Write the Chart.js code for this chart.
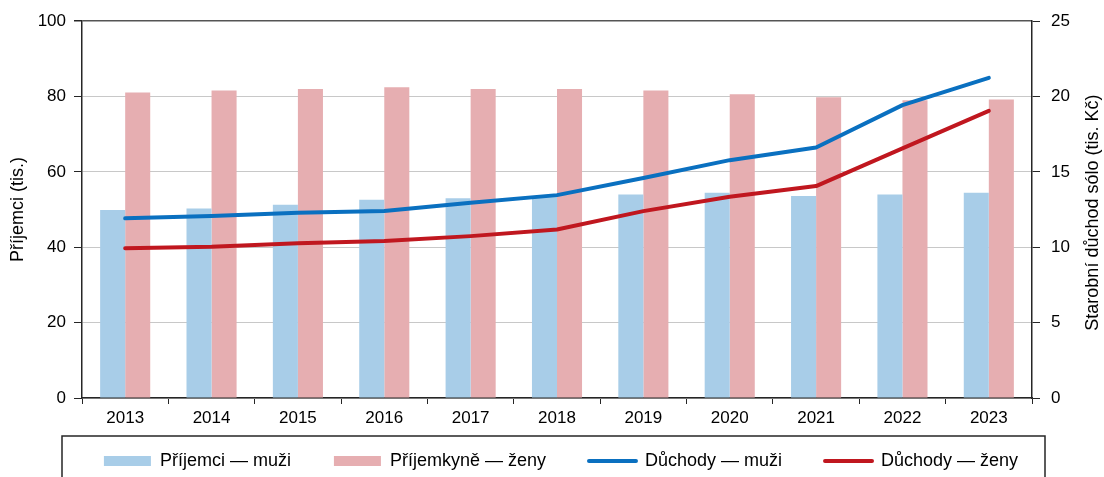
<!DOCTYPE html>
<html>
<head>
<meta charset="utf-8">
<script src="https://cdn.jsdelivr.net/npm/chart.js@4/dist/chart.umd.min.js"></script>
<style>
  html, body { margin: 0; padding: 0; background: #fff; overflow: hidden; }
</style>
</head>
<body>
<canvas id="chart" width="1104" height="477"></canvas>
<script>
// data
const years = ['2013', '2014', '2015', '2016', '2017', '2018', '2019', '2020', '2021', '2022', '2023'];
const prijemciMuzi = [49.9, 50.3, 51.3, 52.6, 53.0, 53.4, 54.0, 54.5, 53.6, 54.0, 54.5];
const prijemkyneZeny = [81.1, 81.6, 82.0, 82.5, 82.0, 82.0, 81.6, 80.6, 79.8, 79.0, 79.2];
const duchodyMuzi = [11.92, 12.08, 12.29, 12.41, 12.96, 13.46, 14.6, 15.78, 16.62, 19.43, 21.24];
const duchodyZeny = [9.93, 10.03, 10.27, 10.41, 10.74, 11.18, 12.4, 13.35, 14.06, 16.56, 19.05];

const leftTicks = [0, 20, 40, 60, 80, 100];
const rightTicks = [0, 5, 10, 15, 20, 25];

const axisColor = '#262626';
const gridColor = '#c8c8c8';
const fontFamily = "'Liberation Sans', Arial, sans-serif";

Chart.defaults.font.family = fontFamily;
Chart.defaults.font.size = 17;
Chart.defaults.color = '#000';

// frame around the legend + right axis title (reads bottom to top)
const extras = {
  id: 'extras',
  afterLayout(chart) {
    // move legend rows into the middle of the frame, and don't let it clip them
    const lg = chart.legend;
    lg.top = 461 - lg.options.labels.padding - 9;
    lg.bottom = chart.height + 40;
    lg.left += 9;
    lg.right += 9;
  },
  afterDraw(chart) {
    const ctx = chart.ctx;
    ctx.save();
    ctx.strokeStyle = axisColor;
    ctx.lineWidth = 1.5;
    ctx.beginPath();
    ctx.moveTo(62, 480);
    ctx.lineTo(62, 436);
    ctx.lineTo(1045, 436);
    ctx.lineTo(1045, 480);
    ctx.stroke();

    const area = chart.chartArea;
    ctx.translate(1093, (area.top + area.bottom) / 2 + 3);
    ctx.rotate(-Math.PI / 2);
    ctx.fillStyle = '#000';
    ctx.font = '18px ' + fontFamily;
    ctx.textAlign = 'center';
    ctx.textBaseline = 'middle';
    ctx.fillText('Starobní důchod sólo (tis. Kč)', 0, 0);
    ctx.restore();
  }
};

const ctx = document.getElementById('chart').getContext('2d');
const chart = new Chart(ctx, {
  type: 'bar',
  data: {
    labels: years,
    datasets: [
      {
        label: 'Příjemci — muži',
        data: prijemciMuzi,
        backgroundColor: '#a8cde8',
        yAxisID: 'y',
        order: 2
      },
      {
        label: 'Příjemkyně — ženy',
        data: prijemkyneZeny,
        backgroundColor: '#e6aeb1',
        yAxisID: 'y',
        order: 2
      },
      {
        type: 'line',
        label: 'Důchody — muži',
        data: duchodyMuzi,
        borderColor: '#0a70c0',
        borderWidth: 4,
        pointRadius: 0,
        tension: 0,
        borderCapStyle: 'round',
        borderJoinStyle: 'round',
        yAxisID: 'y1',
        order: 1
      },
      {
        type: 'line',
        label: 'Důchody — ženy',
        data: duchodyZeny,
        borderColor: '#c0171f',
        borderWidth: 4,
        pointRadius: 0,
        tension: 0,
        borderCapStyle: 'round',
        borderJoinStyle: 'round',
        yAxisID: 'y1',
        order: 1
      }
    ]
  },
  options: {
    responsive: false,
    animation: false,
    events: [],
    datasets: {
      bar: { categoryPercentage: 0.58, barPercentage: 1.0 }
    },
    layout: { padding: { top: 21, left: 0, right: 0, bottom: 0 } },
    plugins: {
      tooltip: { enabled: false },
      legend: {
        position: 'bottom',
        maxHeight: 41,
        labels: {
          padding: 43,
          usePointStyle: true,
          pointStyleWidth: 47,
          boxHeight: 10,
          font: { size: 18 },
          generateLabels(chart) {
            return chart.data.datasets.map((ds, i) => {
              const isLine = ds.type === 'line';
              return {
                text: ds.label,
                fillStyle: isLine ? ds.borderColor : ds.backgroundColor,
                strokeStyle: isLine ? ds.borderColor : ds.backgroundColor,
                lineWidth: isLine ? 4 : 0,
                lineCap: 'round',
                pointStyle: isLine ? 'line' : 'rect',
                fontColor: '#000',
                hidden: false,
                datasetIndex: i
              };
            });
          }
        }
      }
    },
    scales: {
      x: {
        grid: {
          offset: true,
          drawOnChartArea: false,
          tickLength: 6,
          tickColor: axisColor
        },
        border: { color: axisColor, width: 1.5 },
        ticks: { padding: 4, font: { size: 17 } },
        afterFit(scale) { scale.height = 38; }
      },
      y: {
        position: 'left',
        min: 0,
        max: 100,
        afterBuildTicks(scale) { scale.ticks = leftTicks.map(v => ({ value: v })); },
        grid: {
          color: c => (c.tick && c.tick.value === 100 ? '#555' : gridColor),
          lineWidth: c => (c.tick && c.tick.value === 100 ? 1.5 : 1),
          tickColor: axisColor,
          tickLength: 8
        },
        border: { color: axisColor, width: 1.5 },
        ticks: { padding: 8, font: { size: 17 } },
        title: {
          display: true,
          text: 'Příjemci (tis.)',
          font: { size: 18 },
          padding: { top: 7, bottom: 0 }
        },
        afterFit(scale) { scale.width = 82; }
      },
      y1: {
        position: 'right',
        min: 0,
        max: 25,
        afterBuildTicks(scale) { scale.ticks = rightTicks.map(v => ({ value: v })); },
        grid: {
          drawOnChartArea: false,
          tickColor: axisColor,
          tickLength: 8
        },
        border: { color: axisColor, width: 1.5 },
        ticks: { padding: 11, font: { size: 17 } },
        afterFit(scale) { scale.width = 72; }
      }
    }
  },
  plugins: [extras]
});
</script>
</body>
</html>
